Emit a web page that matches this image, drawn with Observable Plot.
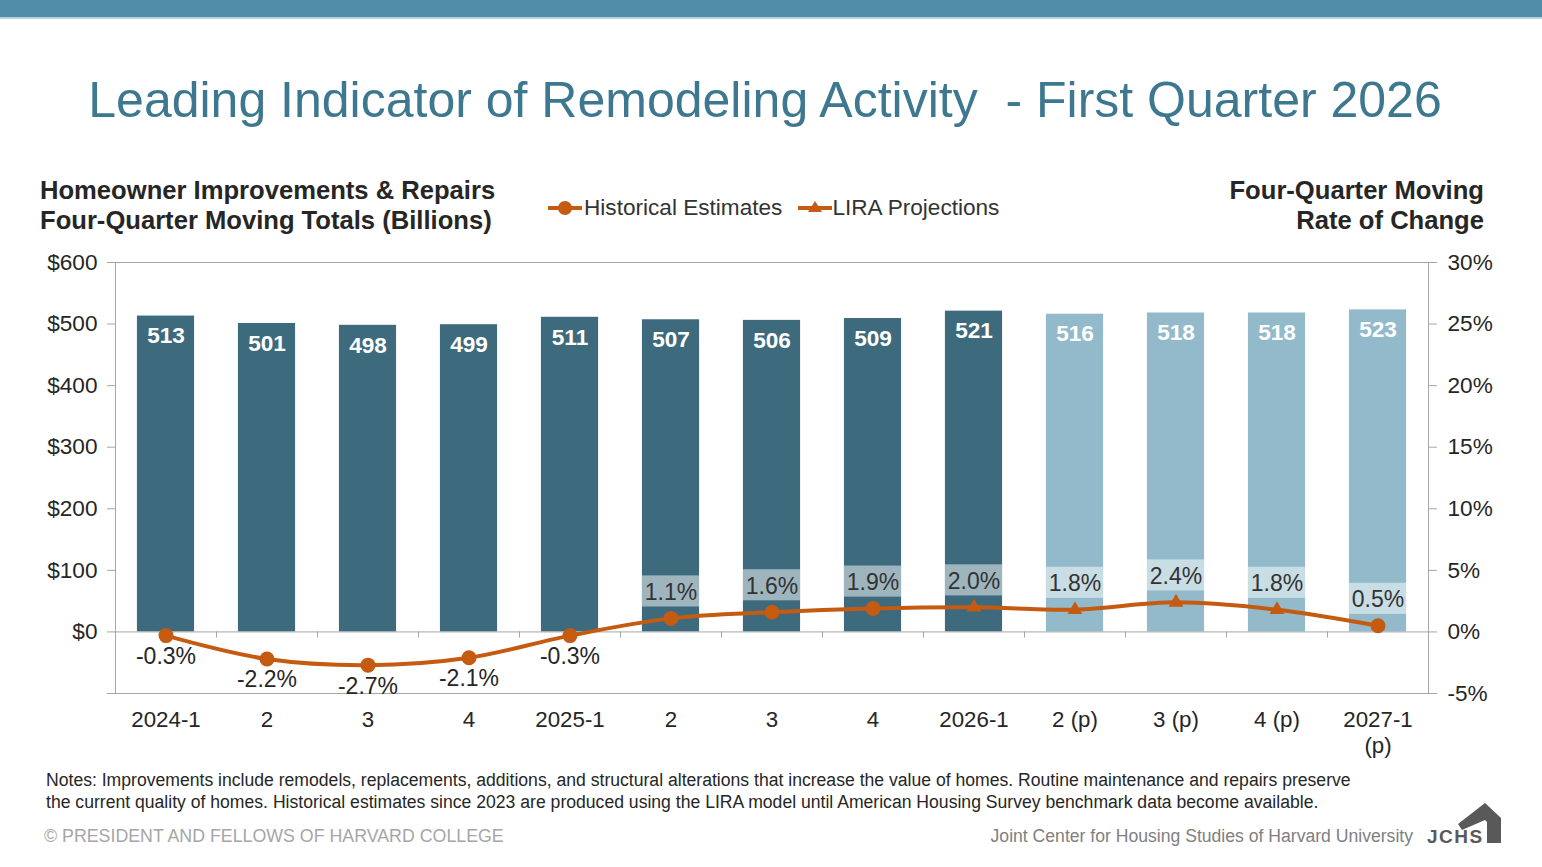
<!DOCTYPE html>
<html>
<head>
<meta charset="utf-8">
<script src="https://cdn.jsdelivr.net/npm/d3@7"></script>
<script src="https://cdn.jsdelivr.net/npm/@observablehq/plot@0.6"></script>
<style>
  html, body { margin: 0; padding: 0; background: #fff; }
  body { width: 1542px; height: 867px; position: relative; overflow: hidden;
         font-family: "Liberation Sans", Arial, sans-serif; color: #262626; }
  .band { position: absolute; left: 0; top: 0; width: 1542px; height: 17px;
          background: #4f8da8; border-bottom: 2px solid #b9d3de; }
  .title { position: absolute; left: 0; width: 1530px; top: 75px; text-align: center;
           font-size: 50px; line-height: 50px; color: #3d7890; white-space: pre; }
  .ytitle { position: absolute; top: 175px; font-size: 25.6px; line-height: 30px;
            font-weight: bold; color: #262626; }
  .legend { position: absolute; top: 194px; left: 546px; font-size: 22.6px; line-height: 28px;
            color: #333; display: flex; align-items: center; }
  .legend svg { display: block; }
  #chart { position: absolute; left: 0; top: 230px; }
  .notes { position: absolute; left: 46px; top: 769px; font-size: 17.6px; line-height: 22px; color: #262626; white-space: nowrap; }
  .copy { position: absolute; left: 44px; top: 826px; font-size: 17.8px; line-height: 20px; color: #a6a6a6; }
  .credit { position: absolute; right: 129px; top: 826px; font-size: 17.6px; line-height: 20px; color: #808080; }
  .logo { position: absolute; left: 1424px; top: 800px; }
</style>
</head>
<body>
<div class="band"></div>
<div class="title">Leading Indicator of Remodeling Activity  - First Quarter 2026</div>
<div class="ytitle" style="left:40px;">Homeowner Improvements &amp; Repairs<br>Four-Quarter Moving Totals (Billions)</div>
<div class="ytitle" style="right:58px; text-align:right;">Four-Quarter Moving<br>Rate of Change</div>
<div class="legend">
  <svg width="38" height="20"><line x1="2" y1="10" x2="36" y2="10" stroke="#c55a11" stroke-width="4"/><circle cx="19" cy="10" r="7" fill="#c55a11"/></svg>
  <span>Historical Estimates</span>
  <svg width="52" height="20" style="margin-left:14px"><line x1="2" y1="10" x2="36" y2="10" stroke="#c55a11" stroke-width="4"/><path d="M19,3 L26,14 L12,14 Z" fill="#c55a11"/></svg>
  <span style="margin-left:-16px">LIRA Projections</span>
</div>
<div id="chart"></div>
<div class="notes">Notes: Improvements include remodels, replacements, additions, and structural alterations that increase the value of homes. Routine maintenance and repairs preserve<br>the current quality of homes. Historical estimates since 2023 are produced using the LIRA model until American Housing Survey benchmark data become available.</div>
<div class="copy">© PRESIDENT AND FELLOWS OF HARVARD COLLEGE</div>
<div class="credit">Joint Center for Housing Studies of Harvard University</div>
<svg class="logo" width="80" height="46">
  <text x="3" y="43" font-family="Liberation Sans, Arial, sans-serif" font-weight="bold" font-size="19" fill="#595959" letter-spacing="1.5">JCHS</text>
  <path d="M34,24 L61,3 L77,18 L77,43 L63,43 L63,22 L61,20 L38,30 Z" fill="#595959"/>
</svg>
<script>
// Quarters shown on the x axis
const quarters = ["2024-1", "2", "3", "4", "2025-1", "2", "3", "4", "2026-1", "2 (p)", "3 (p)", "4 (p)", "2027-1\n(p)"];
// Four-quarter moving totals, $ billions
const totals = [513, 501, 498, 499, 511, 507, 506, 509, 521, 516, 518, 518, 523];
// Four-quarter moving rate of change, %
const changes = [-0.3, -2.2, -2.7, -2.1, -0.3, 1.1, 1.6, 1.9, 2.0, 1.8, 2.4, 1.8, 0.5];
// Bars that are projections (lighter fill)
const projectedBar = [false, false, false, false, false, false, false, false, false, true, true, true, true];
// Marker series for each point on the rate-of-change line
const markerSeries = ["Historical Estimates", "Historical Estimates", "Historical Estimates", "Historical Estimates",
  "Historical Estimates", "Historical Estimates", "Historical Estimates", "Historical Estimates",
  "LIRA Projections", "LIRA Projections", "LIRA Projections", "LIRA Projections", "Historical Estimates"];
// Axis ticks
const leftTicks = [-100, 0, 100, 200, 300, 400, 500, 600];
const leftTickLabels = ["", "$0", "$100", "$200", "$300", "$400", "$500", "$600"];
const rightTickLabels = ["-5%", "0%", "5%", "10%", "15%", "20%", "25%", "30%"];

// 30% on the right axis lines up with $600 on the left axis
const pctScale = 600 / 30;

const rows = quarters.map((q, i) => ({
  i, q, total: totals[i], change: changes[i], y2: changes[i] * pctScale,
  projected: projectedBar[i], series: markerSeries[i]
}));
const positive = rows.filter(d => d.change >= 0);
const negative = rows.filter(d => d.change < 0);
const halfBar = 0.283;
const dark = "#3d6a7d", light = "#93bacb", orange = "#c55a11", axisGray = "#a6a6a6";
const fmtPct = d => d.change.toFixed(1) + "%";

const chart = Plot.plot({
  width: 1542,
  height: 533,
  marginLeft: 115,
  marginRight: 114,
  marginTop: 32,
  marginBottom: 70,
  x: {domain: [-0.5, quarters.length - 0.5], axis: null},
  y: {domain: [-100, 600], axis: null},
  style: {fontFamily: "'Liberation Sans', Arial, sans-serif", fontSize: "22px", color: "#262626", background: "transparent"},
  marks: [
    Plot.rect(rows.filter(d => !d.projected), {x1: d => d.i - halfBar, x2: d => d.i + halfBar, y1: 0, y2: "total", fill: dark}),
    Plot.rect(rows.filter(d => d.projected), {x1: d => d.i - halfBar, x2: d => d.i + halfBar, y1: 0, y2: "total", fill: light}),
    Plot.frame({stroke: axisGray}),
    Plot.ruleY([0], {stroke: axisGray}),
    Plot.ruleX(d3.range(quarters.length - 1).map(i => i + 0.5), {x: d => d, y1: 0, y2: -10, stroke: axisGray}),
    Plot.axisY({anchor: "left", ticks: leftTicks, tickFormat: d => leftTickLabels[leftTicks.indexOf(d)],
      tickSize: 8, tickPadding: 10, stroke: axisGray, fill: "#262626", label: null, fontSize: 22.6}),
    Plot.axisY({anchor: "right", ticks: leftTicks, tickFormat: d => rightTickLabels[leftTicks.indexOf(d)],
      tickSize: 8, tickPadding: 11, stroke: axisGray, fill: "#262626", label: null, fontSize: 22.6}),
    Plot.axisX({anchor: "bottom", ticks: d3.range(quarters.length), tickFormat: i => quarters[i],
      tickSize: 0, tickPadding: 15, lineHeight: 1.16, fill: "#262626", label: null, fontSize: 22.3}),
    // value labels at the top of each bar
    Plot.text(rows, {x: "i", y: "total", text: d => String(d.total), dy: 20, fill: "white",
      fontWeight: "bold", fontSize: 22.6}),
    // translucent boxes behind positive rate labels
    Plot.rect(positive, {x1: d => d.i - halfBar, x2: d => d.i + halfBar, y1: d => d.y2 + 18.5, y2: d => d.y2 + 69,
      fill: "white", fillOpacity: 0.5}),
    Plot.line(rows, {x: "i", y: "y2", curve: "catmull-rom", stroke: orange, strokeWidth: 4}),
    Plot.dot(rows.filter(d => d.series === "Historical Estimates"), {x: "i", y: "y2", r: 7.5, fill: orange, symbol: "circle"}),
    Plot.dot(rows.filter(d => d.series === "LIRA Projections"), {x: "i", y: "y2", r: 5.5, fill: orange, symbol: "triangle"}),
    Plot.text(positive, {x: "i", y: "y2", text: fmtPct, dy: -26, fill: "#333", fontSize: 23}),
    Plot.text(negative, {x: "i", y: "y2", text: fmtPct, dy: 21, fill: "#262626", fontSize: 23})
  ]
});
document.getElementById("chart").appendChild(chart);
</script>
</body>
</html>
